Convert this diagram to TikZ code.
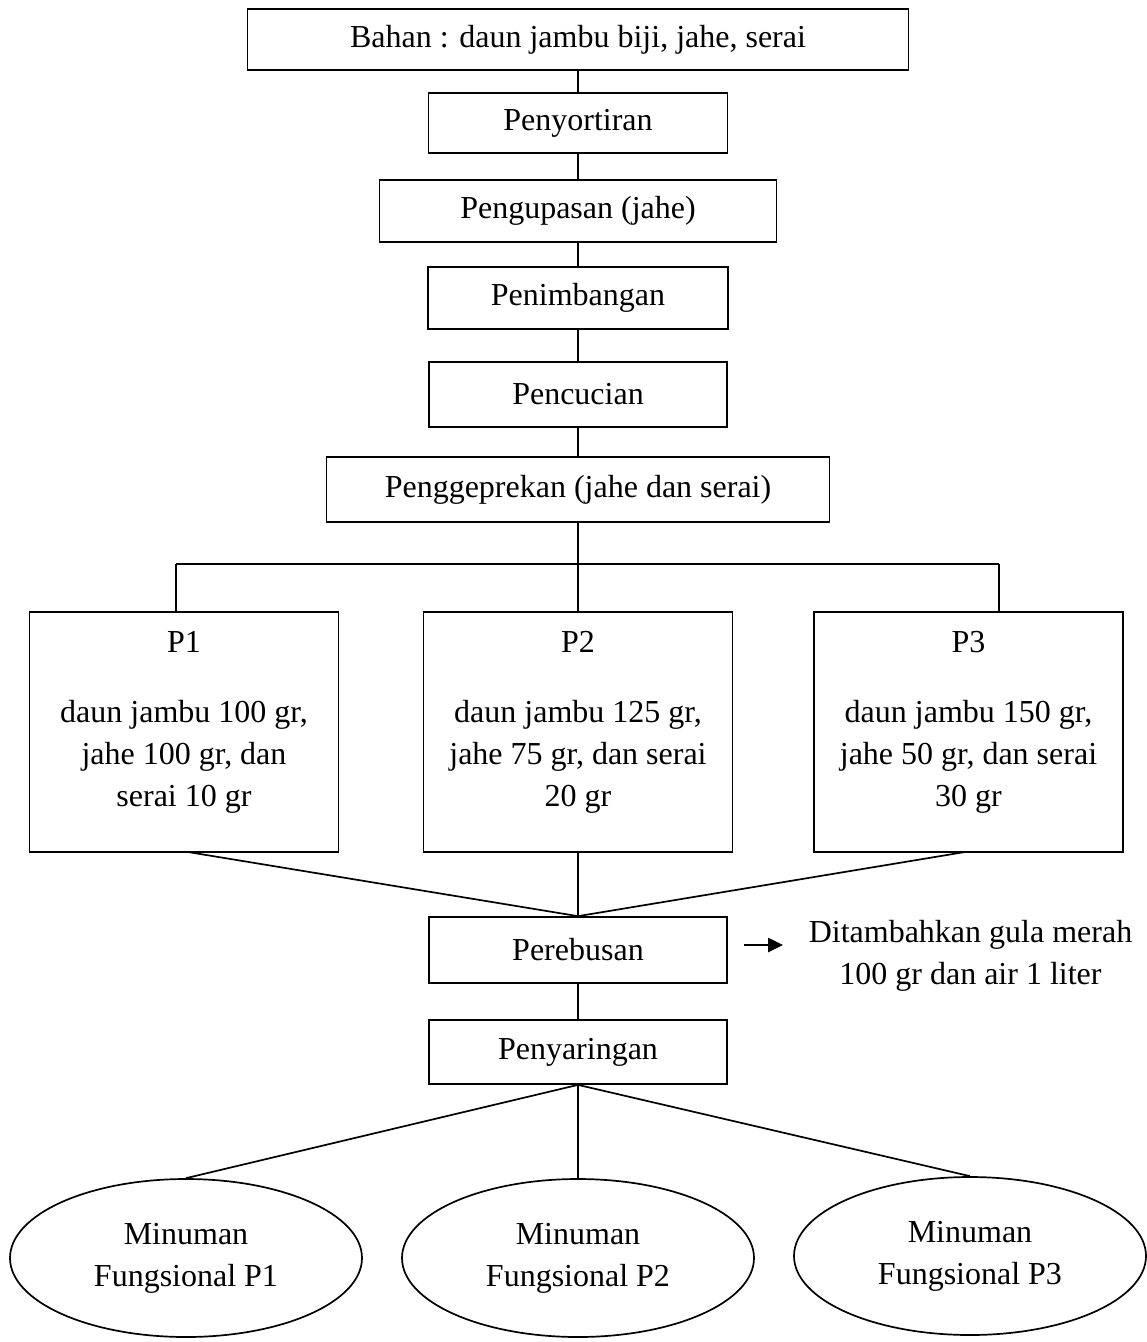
\documentclass[tikz,border=0pt]{standalone}
\usepackage{fontspec}
\setmainfont{Liberation Serif}
\usetikzlibrary{shapes.geometric,arrows.meta}
\begin{document}
\begin{tikzpicture}[x=1pt,y=-1pt,line width=1.7pt,
  every node/.style={font=\fontsize{32}{42}\selectfont},
  box/.style={draw,rectangle,inner sep=0pt,align=center},
  pbox/.style={box,minimum width=309pt,minimum height=240pt},
  oval/.style={draw,ellipse,inner sep=0pt,minimum width=352pt,minimum height=158pt,align=center},
  note/.style={align=center,inner sep=0pt}]
\useasboundingbox[fill=white] (0,0) rectangle (1147,1342);
% main chain
\node[box,minimum width=661pt,minimum height=61pt] (bahan) at (578,39.5) {Bahan : daun jambu biji, jahe, serai};
\node[box,minimum width=299pt,minimum height=60pt] (sortir) at (578,123) {Penyortiran};
\node[box,minimum width=397pt,minimum height=62pt] (kupas) at (578,211) {Pengupasan (jahe)};
\node[box,minimum width=300pt,minimum height=62pt] (timbang) at (578,298) {Penimbangan};
\node[box,minimum width=298pt,minimum height=65pt] (cuci) at (578,394.5) {Pencucian};
\node[box,minimum width=503pt,minimum height=65pt] (geprek) at (578,489.5) {Penggeprekan (jahe dan serai)};
% treatments
\node[pbox] (p1) at (184,732) {P1\\[28pt]daun jambu 100 gr,\\jahe 100 gr, dan\\serai 10 gr\rule[-26pt]{0pt}{1pt}};
\node[pbox] (p2) at (578,732) {P2\\[28pt]daun jambu 125 gr,\\jahe 75 gr, dan serai\\20 gr\rule[-26pt]{0pt}{1pt}};
\node[pbox] (p3) at (968.5,732) {P3\\[28pt]daun jambu 150 gr,\\jahe 50 gr, dan serai\\30 gr\rule[-26pt]{0pt}{1pt}};
% boiling, filtering
\node[box,minimum width=298pt,minimum height=66pt] (rebus) at (578,950) {Perebusan};
\node[box,minimum width=298pt,minimum height=64pt] (saring) at (578,1052) {Penyaringan};
\node[note] (tambah) at (970.5,955.5) {Ditambahkan gula merah\\100 gr dan air 1 liter};
% products
\node[oval] (m1) at (186,1258) {Minuman\\Fungsional P1};
\node[oval] (m2) at (578,1258) {Minuman\\Fungsional P2};
\node[oval] (m3) at (970,1256) {Minuman\\Fungsional P3};
% helper coordinates
\coordinate (brl) at (176,564);
\coordinate (brr) at (999,564);
\coordinate (p1b) at (188,852);
\coordinate (p3b) at (965,852);
\coordinate (a1) at (744,945);
\coordinate (a2) at (783,945);
% connectors
\draw (bahan) -- (sortir);
\draw (sortir) -- (kupas);
\draw (kupas) -- (timbang);
\draw (timbang) -- (cuci);
\draw (cuci) -- (geprek);
\draw (geprek) -- (p2);
\draw (brl) -- (brr);
\draw (brl) -- (brl |- p1.north);
\draw (brr) -- (brr |- p3.north);
\draw (p1b) -- (rebus.north);
\draw (p2) -- (rebus);
\draw (p3b) -- (rebus.north);
\draw (rebus) -- (saring);
\draw (saring.south) -- (m1.north);
\draw (saring.south) -- (m2.north);
\draw (saring.south) -- (m3.north);
\draw[line width=2.6pt,-{Triangle[length=15pt,width=14pt]}] (a1) -- (a2);
\end{tikzpicture}
\end{document}
